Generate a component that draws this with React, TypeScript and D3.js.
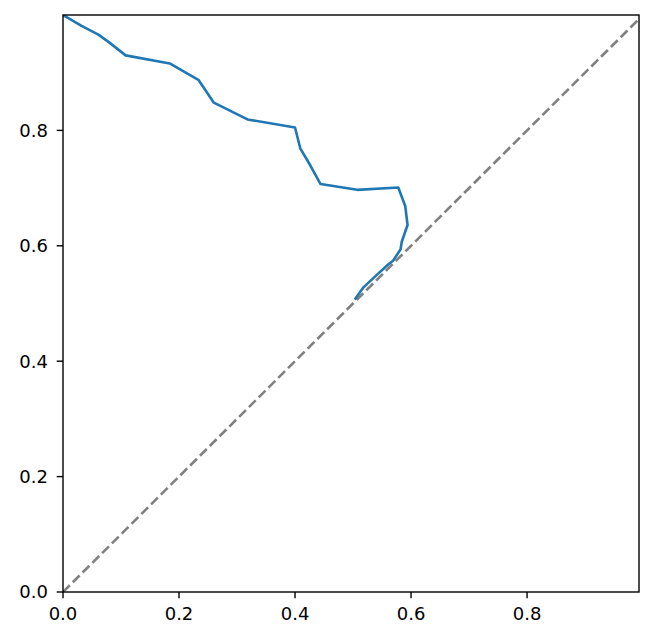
import React from "react";
import * as d3 from "d3";

const fpr: number[] = [0.0, 0.032, 0.061, 0.079, 0.108, 0.184, 0.234, 0.26, 0.318, 0.4, 0.409, 0.426, 0.444, 0.507, 0.578, 0.59, 0.594, 0.584, 0.582, 0.569, 0.561, 0.535, 0.518, 0.503];
const tpr: number[] = [1.0, 0.981, 0.966, 0.953, 0.93, 0.916, 0.887, 0.848, 0.819, 0.805, 0.769, 0.74, 0.707, 0.697, 0.701, 0.669, 0.636, 0.607, 0.594, 0.574, 0.568, 0.544, 0.528, 0.507];
const diagX: number[] = [0, 1];
const diagY: number[] = [0, 1];
const xTicks: number[] = [0.0, 0.2, 0.4, 0.6, 0.8];
const yTicks: number[] = [0.0, 0.2, 0.4, 0.6, 0.8];

const W = 655;
const H = 642;
const left = 63;
const right = 639;
const top = 15;
const bottom = 592;

export default function App() {
  const x = d3.scaleLinear().domain([0, 0.993]).range([left, right]);
  const y = d3.scaleLinear().domain([0, 1]).range([bottom, top]);
  const line = d3
    .line<[number, number]>()
    .x((d) => x(d[0]))
    .y((d) => y(d[1]));
  const curve: [number, number][] = fpr.map((v, i) => [v, tpr[i]]);
  const diag: [number, number][] = diagX.map((v, i) => [v, diagY[i]]);
  const font = "DejaVu Sans, sans-serif";
  return (
    <svg
      width={W}
      height={H}
      style={{ position: "absolute", left: 0, top: 0, background: "#fff" }}
    >
      <defs>
        <clipPath id="plotclip">
          <rect x={left} y={top} width={right - left} height={bottom - top} />
        </clipPath>
      </defs>
      <g clipPath="url(#plotclip)">
        <path
          d={line(diag) || ""}
          fill="none"
          stroke="#808080"
          strokeWidth={2.6}
          strokeDasharray="9.6,4.2"
        />
        <path
          d={line(curve) || ""}
          fill="none"
          stroke="#1f77b4"
          strokeWidth={2.6}
          strokeLinejoin="round"
          strokeLinecap="butt"
        />
      </g>
      <rect
        x={left}
        y={top}
        width={right - left}
        height={bottom - top}
        fill="none"
        stroke="#000"
        strokeWidth={1.4}
      />
      {xTicks.map((t) => (
        <g key={"x" + t}>
          <line x1={x(t)} x2={x(t)} y1={bottom} y2={bottom + 6.3} stroke="#000" strokeWidth={1.4} />
          <text
            x={x(t)}
            y={bottom + 28}
            textAnchor="middle"
            fontFamily={font}
            fontSize={18}
            fill="#000"
          >
            {d3.format(".1f")(t)}
          </text>
        </g>
      ))}
      {yTicks.map((t) => (
        <g key={"y" + t}>
          <line x1={left - 6.3} x2={left} y1={y(t)} y2={y(t)} stroke="#000" strokeWidth={1.4} />
          <text
            x={left - 15}
            y={y(t)}
            dy="0.36em"
            textAnchor="end"
            fontFamily={font}
            fontSize={18}
            fill="#000"
          >
            {d3.format(".1f")(t)}
          </text>
        </g>
      ))}
    </svg>
  );
}
